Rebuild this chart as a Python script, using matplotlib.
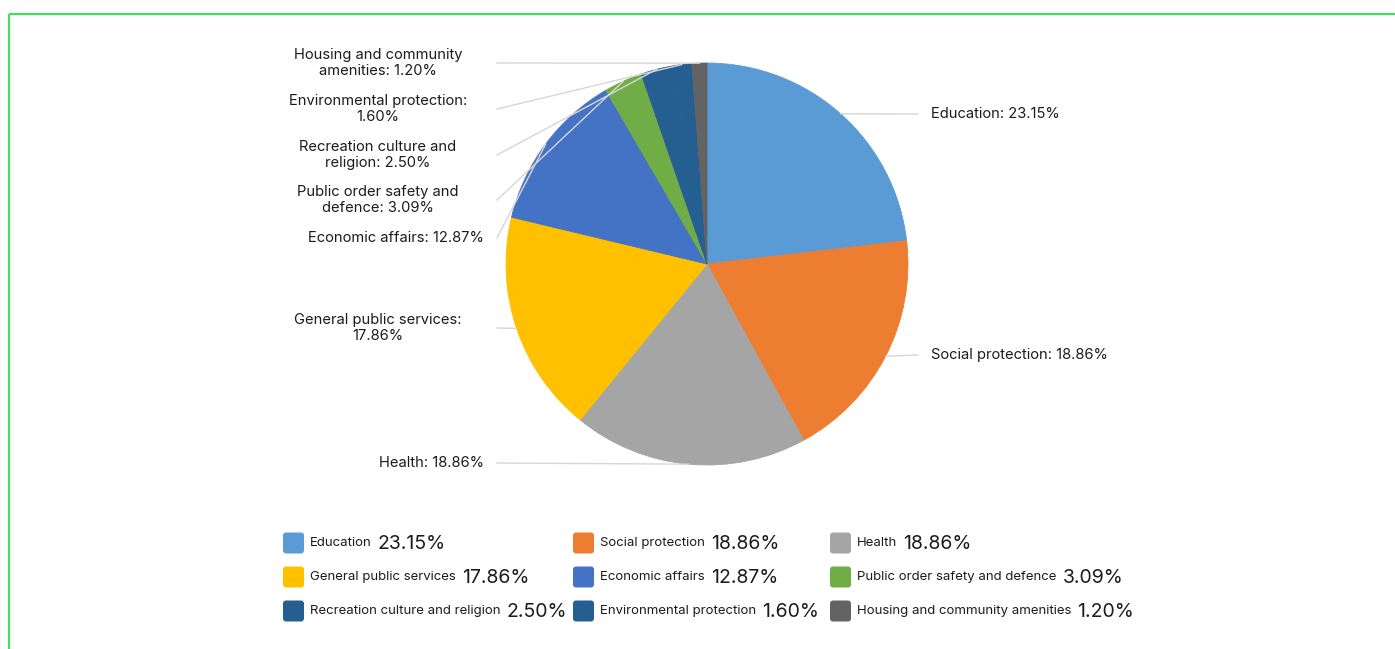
import matplotlib
matplotlib.use("Agg")
import matplotlib.pyplot as plt
from matplotlib.patches import FancyBboxPatch
import numpy as np

plt.rcParams['font.family'] = ['Inter', 'DejaVu Sans']

categories = ["Education", "Social protection", "Health", "General public services",
              "Economic affairs", "Public order safety and defence",
              "Recreation culture and religion", "Environmental protection",
              "Housing and community amenities"]
shares = [23.15, 18.86, 18.86, 17.86, 12.87, 3.09, 2.50, 1.60, 1.20]
colors = ["#5B9BD5", "#ED7D31", "#A5A5A5", "#FFC000", "#4472C4",
          "#70AD47", "#255E91", "#255E91", "#636363"]
pie_labels = ["Education: 23.15%", "Social protection: 18.86%", "Health: 18.86%",
              "General public services:\n17.86%", "Economic affairs: 12.87%",
              "Public order safety and\ndefence: 3.09%", "Recreation culture and\nreligion: 2.50%",
              "Environmental protection:\n1.60%", "Housing and community\namenities: 1.20%"]
# label rows, pixels from the top
label_rows = [114, 355, 463, 328, 238, 200, 155, 109, 63]

W, H = 1395, 649
fig = plt.figure(figsize=(W / 100, H / 100), dpi=100)
ax = fig.add_axes([0, 0, 1, 1])

cx, cy, r = 707, H - 264, 201
wedges, _ = ax.pie(shares, colors=colors, startangle=90, counterclock=False,
                   center=(cx, cy), radius=r, wedgeprops=dict(linewidth=0.6))
for w in wedges:
    w.set_edgecolor(w.get_facecolor())
ax.set_xlim(0, W)
ax.set_ylim(0, H)
ax.set_aspect('equal')
ax.axis('off')

txt = '#1c1c1c'
for w, lab, row in zip(wedges, pie_labels, label_rows):
    mid = np.deg2rad((w.theta1 + w.theta2) / 2)
    ex, ey = cx + r * np.cos(mid), cy + r * np.sin(mid)
    ly = H - row
    if np.cos(mid) > 0:
        ax.plot([ex, 918], [ey, ly], color='#d6d6d6', lw=1, zorder=3)
        ax.text(931, ly, lab, ha='left', va='center', fontsize=10.6, color=txt)
    else:
        ax.plot([497, ex], [ly, ey], color='#d6d6d6', lw=1, zorder=3)
        if '\n' in lab:
            ax.text(378, ly, lab, ha='center', va='center', fontsize=10.6, color=txt,
                    multialignment='center', linespacing=1.2)
        else:
            ax.text(484, ly, lab, ha='right', va='center', fontsize=10.6, color=txt)

# legend, 3 columns x 3 rows
col_x = [283, 573, 830]
row_y = [543, 577, 611]
fig.canvas.draw()
renderer = fig.canvas.get_renderer()
for i, (name, val, c) in enumerate(zip(categories, shares, colors)):
    x0 = col_x[i % 3]
    y0 = H - row_y[i // 3]
    ax.add_patch(FancyBboxPatch((x0 + 2, y0 - 8.5), 17, 17,
                                boxstyle="round,pad=2,rounding_size=3",
                                fc=c, ec='none'))
    t = ax.text(x0 + 27, y0, name, ha='left', va='center', fontsize=9.5, color=txt)
    bb = t.get_window_extent(renderer)
    ax.text(bb.x1 + 6, y0 - 1, f"{val:.2f}%", ha='left', va='center', fontsize=14, color=txt)

# green frame (top and left edges)
ax.plot([9, 9], [0, H - 14], color='#4cd964', lw=1.6, solid_capstyle='butt')
ax.plot([9, W], [H - 14, H - 14], color='#4cd964', lw=1.6, solid_capstyle='butt')

fig.savefig('out.png', dpi=100, facecolor='white')
